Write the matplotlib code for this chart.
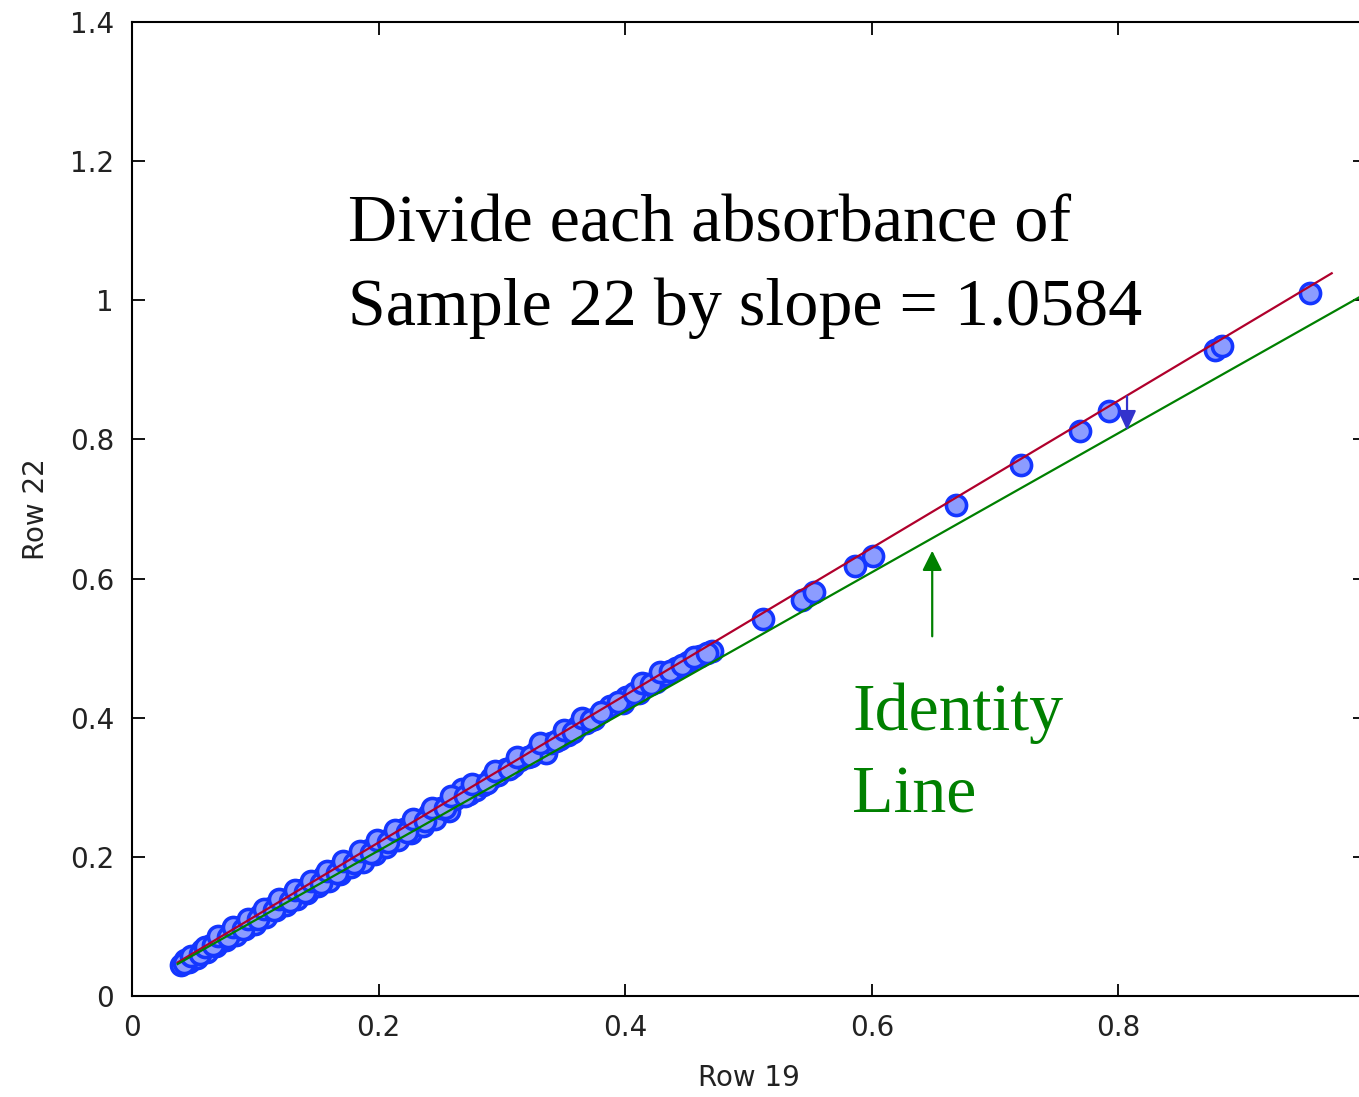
import matplotlib
matplotlib.use("Agg")
import matplotlib.pyplot as plt
from matplotlib.ticker import FixedLocator, FixedFormatter

# Absorbance of sample 19 (x) vs. sample 22 (y)
row19 = [0.040, 0.043, 0.046, 0.050, 0.053, 0.057, 0.061, 0.064, 0.068, 0.072,
         0.076, 0.080, 0.084, 0.088, 0.092, 0.096, 0.100, 0.104, 0.109, 0.113,
         0.117, 0.121, 0.125, 0.130, 0.134, 0.138, 0.142, 0.147, 0.151, 0.156,
         0.160, 0.164, 0.169, 0.173, 0.178, 0.183, 0.187, 0.192, 0.197, 0.201,
         0.206, 0.211, 0.216, 0.221, 0.226, 0.231, 0.236, 0.241, 0.246, 0.251,
         0.257, 0.262, 0.268, 0.273, 0.279, 0.285, 0.291, 0.297, 0.303, 0.309,
         0.315, 0.321, 0.328, 0.334, 0.336, 0.340, 0.347, 0.354, 0.361, 0.368,
         0.375, 0.388, 0.398, 0.401, 0.411, 0.418, 0.425, 0.432, 0.441, 0.451,
         0.461, 0.470, 0.512, 0.543, 0.553, 0.586, 0.601, 0.668, 0.721, 0.769,
         0.792, 0.878, 0.884, 0.955,
         0.042, 0.048, 0.055, 0.059, 0.066, 0.070, 0.078, 0.082, 0.090, 0.094,
         0.102, 0.107, 0.115, 0.119, 0.128, 0.132, 0.140, 0.145, 0.153, 0.158,
         0.166, 0.171, 0.180, 0.185, 0.194, 0.199, 0.208, 0.213, 0.223, 0.228,
         0.238, 0.243, 0.254, 0.259, 0.270, 0.276, 0.288, 0.294, 0.306, 0.312,
         0.324, 0.331, 0.344, 0.350, 0.358, 0.365, 0.372, 0.380, 0.394, 0.407,
         0.414, 0.421, 0.428, 0.436, 0.446, 0.456, 0.466]
row22 = [0.045, 0.052, 0.049, 0.058, 0.055, 0.066, 0.063, 0.074, 0.072, 0.083,
         0.080, 0.090, 0.087, 0.099, 0.097, 0.108, 0.104, 0.117, 0.113, 0.127,
         0.124, 0.135, 0.131, 0.144, 0.140, 0.152, 0.148, 0.162, 0.158, 0.172,
         0.166, 0.180, 0.176, 0.190, 0.185, 0.199, 0.193, 0.210, 0.204, 0.219,
         0.214, 0.229, 0.224, 0.240, 0.235, 0.251, 0.245, 0.261, 0.255, 0.270,
         0.266, 0.283, 0.297, 0.290, 0.296, 0.303, 0.313, 0.318, 0.326, 0.330,
         0.339, 0.343, 0.351, 0.357, 0.349, 0.364, 0.370, 0.375, 0.386, 0.392,
         0.398, 0.417, 0.421, 0.430, 0.436, 0.448, 0.452, 0.461, 0.471, 0.480,
         0.489, 0.496, 0.542, 0.569, 0.581, 0.618, 0.632, 0.706, 0.763, 0.812,
         0.841, 0.929, 0.934, 1.010,
         0.047, 0.058, 0.060, 0.070, 0.073, 0.086, 0.085, 0.099, 0.097, 0.111,
         0.110, 0.125, 0.123, 0.139, 0.137, 0.152, 0.150, 0.166, 0.163, 0.180,
         0.177, 0.194, 0.191, 0.209, 0.206, 0.224, 0.221, 0.239, 0.236, 0.255,
         0.252, 0.270, 0.270, 0.288, 0.287, 0.305, 0.306, 0.324, 0.326, 0.343,
         0.345, 0.363, 0.366, 0.383, 0.380, 0.399, 0.396, 0.408, 0.422, 0.436,
         0.450, 0.448, 0.465, 0.467, 0.476, 0.487, 0.493]

slope = 1.0584
offset = 0.009
fit_x = [0.037, 0.973]
ident_x = [0.037, 1.0]

xticks = [0, 0.2, 0.4, 0.6, 0.8, 1]
xtick_labels = ["0", "0.2", "0.4", "0.6", "0.8", "1"]
yticks = [0, 0.2, 0.4, 0.6, 0.8, 1, 1.2, 1.4]
ytick_labels = ["0", "0.2", "0.4", "0.6", "0.8", "1", "1.2", "1.4"]

W, H = 1359, 1097
fig = plt.figure(figsize=(W / 100, H / 100), dpi=100)
left, right, bottom, top = 132, 1365, 996, 22
ax = fig.add_axes([left / W, (H - bottom) / H, (right - left) / W, (bottom - top) / H])

ax.set_xlim(0, 1)
ax.set_ylim(0, 1.4)

ax.scatter(row19, row22, s=210, facecolor="#8c9cff", edgecolor="#1436ff",
           linewidths=2.6, zorder=2)

ax.plot(fit_x, [slope * v + offset for v in fit_x], color="#b0002c", lw=1.6, zorder=3)
ax.plot(ident_x, [v + offset for v in ident_x], color="#008000", lw=1.6, zorder=3)

serif = ["Liberation Serif", "DejaVu Serif"]
ax.text(0.175, 1.085, "Divide each absorbance of", family=serif, fontsize=49,
        color="black", va="baseline", ha="left")
ax.text(0.175, 0.964, "Sample 22 by slope = 1.0584", family=serif, fontsize=49,
        color="black", va="baseline", ha="left")
ax.text(0.584, 0.382, "Identity", family=serif, fontsize=49,
        color="#008000", va="baseline", ha="left")
ax.text(0.584, 0.264, "Line", family=serif, fontsize=49,
        color="#008000", va="baseline", ha="left")

ax.annotate("", xy=(0.649, 0.640), xytext=(0.649, 0.517),
            arrowprops=dict(arrowstyle="-|>,head_length=1.2,head_width=0.6",
                            color="#008000", lw=1.6, shrinkA=0, shrinkB=0))
ax.annotate("", xy=(0.807, 0.813), xytext=(0.807, 0.862),
            arrowprops=dict(arrowstyle="-|>,head_length=1.2,head_width=0.55",
                            color="#3333cc", lw=1.6, shrinkA=0, shrinkB=0))

sans = ["DejaVu Sans"]
ax.xaxis.set_major_locator(FixedLocator(xticks))
ax.xaxis.set_major_formatter(FixedFormatter(xtick_labels))
ax.yaxis.set_major_locator(FixedLocator(yticks))
ax.yaxis.set_major_formatter(FixedFormatter(ytick_labels))
ax.tick_params(direction="in", length=9, width=1.3, top=True, right=True,
               labelsize=20, colors="black")
ax.tick_params(axis="x", pad=13)
ax.tick_params(axis="y", pad=13)
for lab in ax.get_xticklabels() + ax.get_yticklabels():
    lab.set_family(sans)
    lab.set_color("#222222")
for sp in ax.spines.values():
    sp.set_linewidth(1.5)

ax.set_xlabel("Row 19", family=sans, fontsize=20, color="#222222", labelpad=16)
ax.set_ylabel("Row 22", family=sans, fontsize=20, color="#222222", labelpad=14)

fig.savefig("out.png", dpi=100)
